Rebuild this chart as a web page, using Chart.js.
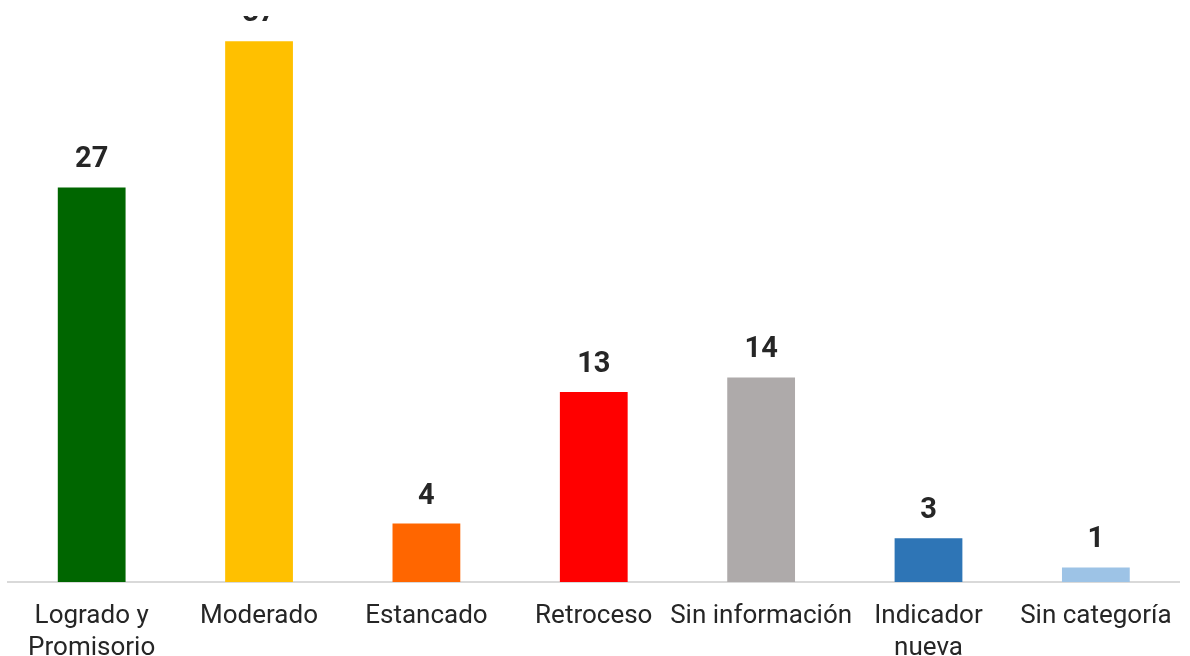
<!DOCTYPE html>
<html><head><meta charset="utf-8">
<script src="https://cdn.jsdelivr.net/npm/chart.js@4.4.1/dist/chart.umd.min.js"></script>
<style>html,body{margin:0;padding:0;background:#fff;overflow:hidden;}#wrap{width:1190px;height:656px;position:relative;overflow:hidden;}</style>
</head><body><div id="wrap"><canvas id="c" width="1190" height="682"></canvas></div>
<script>
const categories = [["Logrado y","Promisorio"], "Moderado", "Estancado", "Retroceso", "Sin información", ["Indicador","nueva"], "Sin categoría"];
const values = [27, 37, 4, 13, 14, 3, 1];
const barColors = ["#006600", "#FFC000", "#FF6600", "#FF0000", "#AEAAAA", "#2E75B6", "#9DC3E6"];

const valueLabels = {
  id: 'valueLabels',
  afterDatasetsDraw(chart) {
    const ctx = chart.ctx, area = chart.chartArea;
    ctx.save();
    ctx.beginPath();
    ctx.rect(0, area.top + 1, chart.width, chart.height);
    ctx.clip();
    ctx.font = 'bold 29px Roboto, "Liberation Sans", sans-serif';
    ctx.fillStyle = '#262626';
    ctx.textAlign = 'center';
    ctx.textBaseline = 'alphabetic';
    chart.getDatasetMeta(0).data.forEach((bar, i) => {
      ctx.fillText(String(values[i]), bar.x, bar.y - 20);
    });
    ctx.restore();
  }
};

new Chart(document.getElementById('c'), {
  type: 'bar',
  data: { labels: categories, datasets: [{ data: values, backgroundColor: barColors, borderWidth: 0, barPercentage: 0.405, categoryPercentage: 1 }] },
  options: {
    responsive: false, animation: false,
    layout: { padding: { left: 8, right: 6, top: 15, bottom: 0 } },
    plugins: { legend: { display: false }, tooltip: { enabled: false } },
    scales: {
      y: { display: false, min: 0, max: 38.8 },
      x: {
        grid: { display: false, drawTicks: false },
        border: { display: true, color: '#D9D9D9', width: 2 },
        ticks: { color: '#262626', padding: 18, maxRotation: 0, autoSkip: false,
          font: { family: 'Roboto, "Liberation Sans", sans-serif', size: 26, lineHeight: 1.23 } }
      }
    }
  },
  plugins: [valueLabels]
});
</script></body></html>
